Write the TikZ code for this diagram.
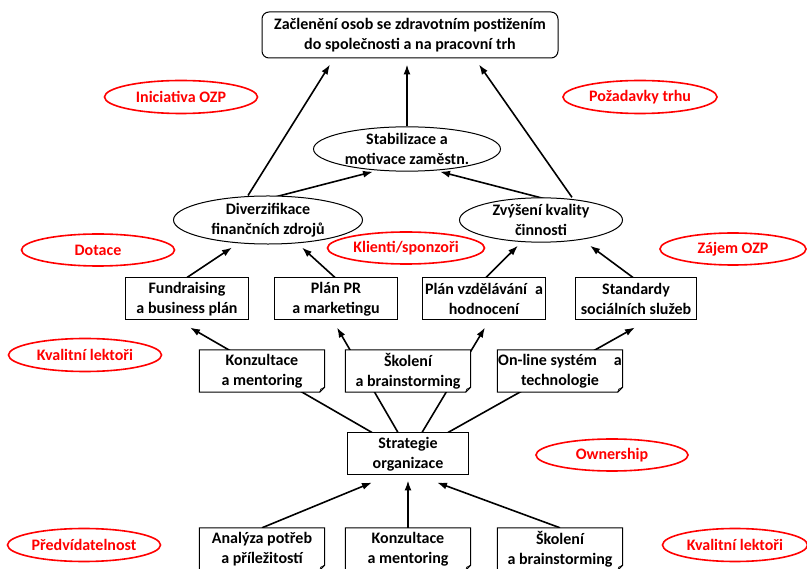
\documentclass[tikz,border=0pt]{standalone}
\usepackage{fontspec}
\setmainfont{Carlito}
\usetikzlibrary{arrows.meta,shapes.geometric}
\pgfdeclarelayer{bg}
\pgfsetlayers{bg,main}

\begin{document}
\begin{tikzpicture}[x=1pt,y=-1pt,
  every node/.style={font=\fontsize{16}{20}\selectfont\bfseries, align=center, inner sep=0pt},
  goal/.style={draw, rounded corners=7pt, line width=1pt, minimum width=296pt, minimum height=46pt, fill=white},
  aim/.style={draw, ellipse, line width=1pt, minimum height=44pt, fill=white},
  task/.style={draw, line width=1pt, minimum width=123pt, minimum height=42pt, fill=white},
  notebox/.style={fill=white, minimum width=125pt, minimum height=42pt},
  factor/.style={draw=red, ellipse, line width=1.6pt, text=red, minimum height=33pt},
  link/.style={line width=1.6pt, -{Latex[length=10pt,width=7pt]}},
  plain/.style={line width=1.6pt}
]
\useasboundingbox (0,0) rectangle (807,569);

% goal
\node[goal] (top) at (410,35) {Začlenění osob se zdravotním postižením\\do společnosti a na pracovní trh};

% aims
\node[aim, minimum width=187pt, minimum height=43pt] (stab) at (407,149) {Stabilizace a\\motivace zaměstn.};
\node[aim, minimum width=189pt] (div) at (268,220) {Diverzifikace\\finančních zdrojů};
\node[aim, minimum width=163pt] (zvy) at (541,220) {Zvýšení kvality\\činnosti};

% plans
\node[task] (fund) at (187,299) {Fundraising\\a business plán};
\node[task] (pr) at (336,299) {Plán PR\\a marketingu};
\node[task] (vz) at (484,299) {Plán vzdělávání\hspace{8pt}a\\hodnocení};
\node[task, minimum width=121pt] (std) at (636,299) {Standardy\\sociálních služeb};

% activities
\node[notebox] (kon1) at (262,371) {Konzultace\\a mentoring};
\node[notebox] (sko1) at (408,371) {Školení\\a brainstorming};
\node[notebox] (onl) at (560,371) {On-line systém\hspace{17pt}a\\technologie};

% strategy
\node[task, minimum width=121pt] (strat) at (408,454) {Strategie\\organizace};

% inputs
\node[notebox] (ana) at (262,549) {Analýza potřeb\\a příležitostí};
\node[notebox] (kon2) at (408,549) {Konzultace\\a mentoring};
\node[notebox] (sko2) at (560,549) {Školení\\a brainstorming};

% note outlines with a folded corner
\foreach \n in {kon1,sko1,onl,ana,kon2,sko2}{
  \draw[line width=1pt] (\n.south west) -- (\n.north west) -- (\n.north east)
    -- ([yshift=5pt]\n.south east) -- ([xshift=-5pt]\n.south east) -- cycle;
  \draw[line width=0.6pt] ([yshift=5pt]\n.south east) -- ([xshift=-4pt,yshift=3pt]\n.south east)
    -- ([xshift=-5pt]\n.south east);
}

% external factors
\node[factor, minimum width=153pt] (ini) at (181,97) {Iniciativa OZP};
\node[factor, minimum width=154pt] (poz) at (640,97) {Požadavky trhu};
\node[factor, minimum width=153pt, minimum height=32pt] (dot) at (98,250) {Dotace};
\node[factor, minimum width=157pt, minimum height=32pt] (kli) at (406,248) {Klienti/sponzoři};
\node[factor, minimum width=146pt, minimum height=32pt] (zaj) at (733,249) {Zájem OZP};
\node[factor, minimum width=153pt] (kva1) at (85,355) {Kvalitní lektoři};
\node[factor, minimum width=152pt, minimum height=32pt] (own) at (612,455) {Ownership};
\node[factor, minimum width=153pt] (pre) at (84,545) {Předvídatelnost};
\node[factor, minimum width=145pt] (kva2) at (735,545) {Kvalitní lektoři};

\begin{pgfonlayer}{bg}
  % aims to goal
  \draw[link] ([xshift=-20pt]div.north) -- ([xshift=-80pt,yshift=-6pt]top.south);
  \draw[link] (stab.north) -- ([xshift=-3pt,yshift=-6pt]top.south);
  \draw[link] ([xshift=31pt]zvy.north) -- ([xshift=69pt,yshift=-6pt]top.south);
  % aims to stabilisation
  \draw[link] ([xshift=5pt,yshift=-2pt]div.north) -- ([xshift=-34pt]stab.south);
  \draw[link] ([xshift=6pt,yshift=-2pt]zvy.north) -- ([xshift=33pt]stab.south);
  % plans to aims
  \draw[link] (fund.north) -- ([xshift=-36pt,yshift=-3pt]div.south);
  \draw[link] ([xshift=-1pt]pr.north) -- ([xshift=34pt,yshift=-3pt]div.south);
  \draw[link] ([xshift=2pt]vz.north) -- ([xshift=-23pt,yshift=-3pt]zvy.south);
  \draw[link] ([xshift=-3pt]std.north) -- ([xshift=49pt,yshift=-3pt]zvy.south);
  % strategy to plans
  \draw[link] ([xshift=-36pt]strat.north) -- ([xshift=3pt,yshift=-7pt]fund.south);
  \draw[link] ([xshift=-10pt]strat.north) -- ([xshift=1pt,yshift=-7pt]pr.south);
  \draw[link] ([xshift=14pt]strat.north) -- ([xshift=1pt,yshift=-7pt]vz.south);
  \draw[link] ([xshift=40pt]strat.north) -- ([xshift=-1pt,yshift=-7pt]std.south);
  % inputs to strategy
  \draw[link] (ana.north) -- ([xshift=-36pt,yshift=-7pt]strat.south);
  \draw[link] (kon2.north) -- ([yshift=-5pt]strat.south);
  \draw[link] (sko2.north) -- ([xshift=29pt,yshift=-7pt]strat.south);
\end{pgfonlayer}
\end{tikzpicture}
\end{document}
